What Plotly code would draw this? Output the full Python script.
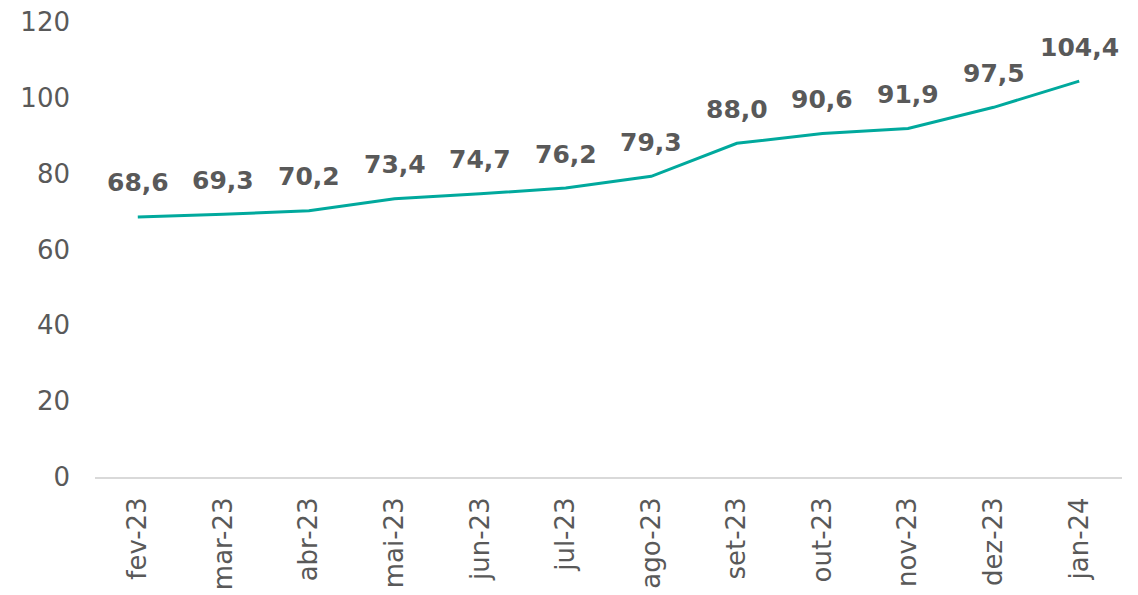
import plotly.graph_objects as go

months = ["fev-23", "mar-23", "abr-23", "mai-23", "jun-23", "jul-23",
          "ago-23", "set-23", "out-23", "nov-23", "dez-23", "jan-24"]
values = [68.6, 69.3, 70.2, 73.4, 74.7, 76.2, 79.3, 88.0, 90.6, 91.9, 97.5, 104.4]
labels = [f"{v:.1f}".replace(".", ",") for v in values]

TEXT_GRAY = "#595959"
LINE_TEAL = "#00A99D"

fig = go.Figure()
fig.add_trace(go.Scatter(
    x=months,
    y=values,
    mode="lines",
    line=dict(color=LINE_TEAL, width=3),
    hoverinfo="skip",
))

# value labels above each point
for m, v, t in zip(months, values, labels):
    fig.add_annotation(
        x=m, y=v, text=f"<b>{t}</b>", showarrow=False,
        yshift=34, font=dict(size=25, color=TEXT_GRAY, family="DejaVu Sans"),
    )

# page body adds an 8px margin, so the figure is a bit smaller than the window
fig.update_layout(
    width=1130,
    height=587,
    margin=dict(l=87, r=16, t=14, b=118),
    plot_bgcolor="white",
    paper_bgcolor="white",
    showlegend=False,
    font=dict(family="DejaVu Sans", color=TEXT_GRAY, size=26),
    xaxis=dict(
        type="category",
        range=[-0.5, len(months) - 0.5],
        tickangle=-90,
        showgrid=False,
        showline=True,
        linecolor="#D9D9D9",
        linewidth=2,
        ticks="",
        automargin=False,
        ticklabelstandoff=8,
        tickfont=dict(size=26, color=TEXT_GRAY),
    ),
    yaxis=dict(
        range=[0, 120],
        dtick=20,
        showgrid=False,
        zeroline=False,
        showline=False,
        ticks="",
        automargin=False,
        ticklabeloverflow="allow",
        ticklabelstandoff=24,
        tickfont=dict(size=26, color=TEXT_GRAY),
    ),
)

fig.write_html("out.html")
